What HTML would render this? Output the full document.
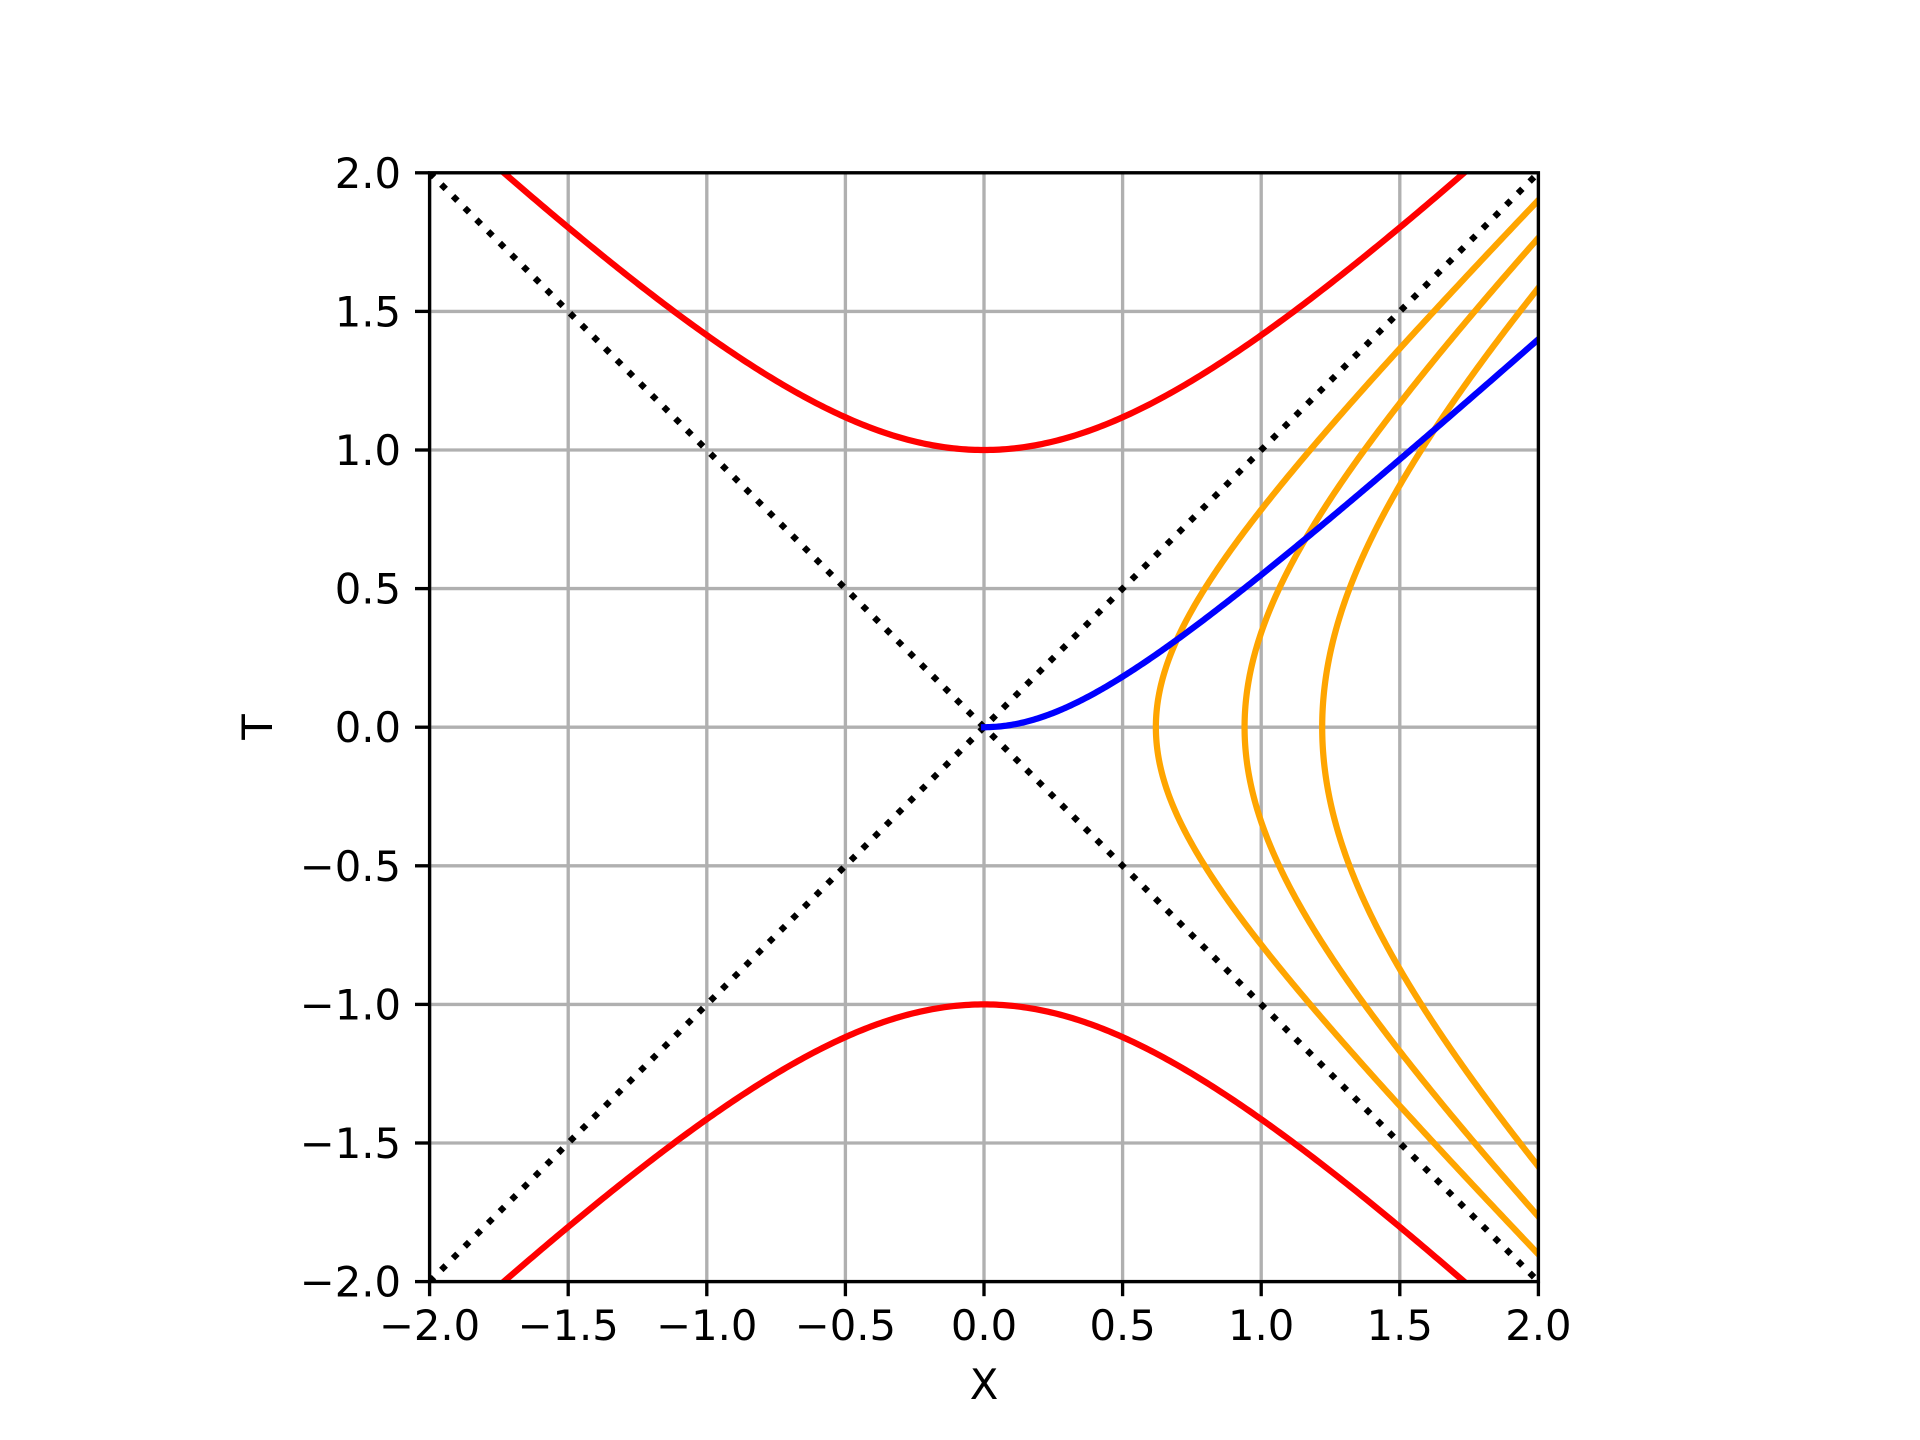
<!DOCTYPE html>
<html><head><meta charset="utf-8"><style>
html,body{margin:0;padding:0;background:#fff;}
svg{display:block;}
text{font-family:"DejaVu Sans","Liberation Sans",sans-serif;font-size:41.7px;fill:#000;}
</style></head><body>
<svg id="s" width="1920" height="1440" viewBox="0 0 1920 1440" xmlns="http://www.w3.org/2000/svg">
<defs><clipPath id="c"><rect x="429.6" y="172.8" width="1108.8" height="1108.8"/></clipPath></defs>
<g id="grid" stroke="#b0b0b0" stroke-width="3.33"></g>
<g id="curves" clip-path="url(#c)" fill="none" stroke-width="6.25" stroke-linecap="square"></g>
<rect x="429.6" y="172.8" width="1108.8" height="1108.8" fill="none" stroke="#000" stroke-width="3.33"/>
<g id="ticks" stroke="#000" stroke-width="3.33"></g>
<g id="labels"></g>
<text x="984" y="1399" text-anchor="middle">X</text>
<text transform="translate(272,727) rotate(-90)" text-anchor="middle">T</text>
</svg>
<script>
var NS="http://www.w3.org/2000/svg";
function px(X){return 984+X*277.2;} function py(T){return 727.2-T*277.2;}
function el(p,tag,a,txt){var e=document.createElementNS(NS,tag);for(var k in a)e.setAttribute(k,a[k]);if(txt)e.textContent=txt;p.appendChild(e);return e;}
var g=document.getElementById('grid'),tk=document.getElementById('ticks'),lb=document.getElementById('labels'),cv=document.getElementById('curves');
var vals=[-2,-1.5,-1,-0.5,0,0.5,1,1.5,2];
vals.forEach(function(v){
 var s=(v<0?'\u2212':'')+Math.abs(v).toFixed(1);
 el(g,'line',{x1:px(v),x2:px(v),y1:172.8,y2:1281.6});
 el(g,'line',{y1:py(v),y2:py(v),x1:429.6,x2:1538.4});
 el(tk,'line',{x1:px(v),x2:px(v),y1:1281.6,y2:1296.2});
 el(tk,'line',{y1:py(v),y2:py(v),x1:429.6,x2:415});
 el(lb,'text',{x:px(v),y:1340,'text-anchor':'middle'},s);
 el(lb,'text',{x:401,y:py(v)+15,'text-anchor':'end'},s);
});
function path(f,a,b,n,col,extra){var d='';for(var i=0;i<=n;i++){var t=a+(b-a)*i/n;var p=f(t);d+=(i?'L':'M')+p[0].toFixed(2)+' '+p[1].toFixed(2);}var e=el(cv,'path',{d:d,stroke:col});if(extra)for(var k in extra)e.setAttribute(k,extra[k]);}
// dotted diagonals
path(function(t){return [px(t),py(t)]},-2,2,2,'#000',{'stroke-dasharray':'6.25 10.3','stroke-linecap':'butt'});
path(function(t){return [px(t),py(-t)]},-2,2,2,'#000',{'stroke-dasharray':'6.25 10.3','stroke-linecap':'butt'});
// red
path(function(x){return [px(x),py(Math.sqrt(1+x*x))]},-2.2,2.2,400,'#ff0000');
path(function(x){return [px(x),py(-Math.sqrt(1+x*x))]},-2.2,2.2,400,'#ff0000');
// orange
[0.62,0.94,1.22].forEach(function(a){path(function(t){return [px(Math.sqrt(a*a+t*t)),py(t)]},-2.2,2.2,400,'#ffa500');});
// blue
path(function(x){return [px(x),py(0.905*(Math.sqrt(x*x+0.2704)-0.52))]},0,2,300,'#0000ff');
</script>
</body></html>
